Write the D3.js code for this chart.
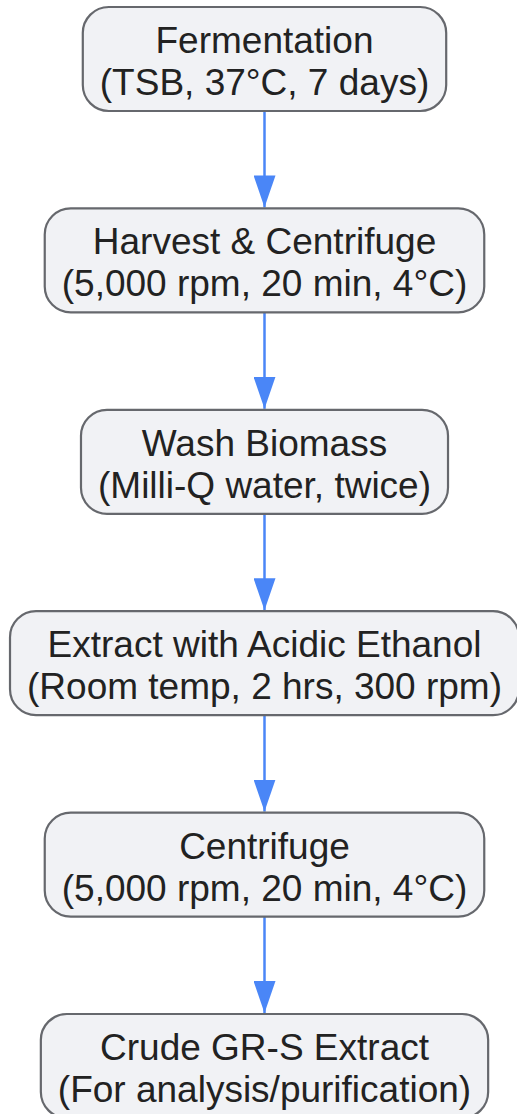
<!DOCTYPE html>
<html><head><meta charset="utf-8">
<script src="https://cdn.jsdelivr.net/npm/d3@7"></script>
<style>html,body{margin:0;padding:0;background:#fff;}svg{display:block;}</style>
</head><body>
<svg id="chart" width="517" height="1114"></svg>
<script>
const steps = ["Fermentation", "Harvest & Centrifuge", "Wash Biomass", "Extract with Acidic Ethanol", "Centrifuge", "Crude GR-S Extract"];
const details = ["(TSB, 37°C, 7 days)", "(5,000 rpm, 20 min, 4°C)", "(Milli-Q water, twice)", "(Room temp, 2 hrs, 300 rpm)", "(5,000 rpm, 20 min, 4°C)", "(For analysis/purification)"];

const svg = d3.select("#chart");
const fontSize = 37;
const font = "'Liberation Sans', Arial, sans-serif";
const cx = 264.5;
const boxH = 104;
const padX = 17;

const y = d3.scaleLinear().domain([0, steps.length - 1]).range([7, 1014]);

svg.append("defs").append("marker")
  .attr("id", "arr").attr("viewBox", "0 0 32 22").attr("refX", 32).attr("refY", 11)
  .attr("markerWidth", 32).attr("markerHeight", 22).attr("markerUnits", "userSpaceOnUse")
  .attr("orient", "auto")
  .append("path").attr("d", "M0,0 L32,11 L0,22 Z").attr("fill", "#4a86f7");

const meas = svg.append("text").attr("font-family", font).attr("font-size", fontSize);
const widths = steps.map((s, i) => {
  meas.text(s); const a = meas.node().getComputedTextLength();
  meas.text(details[i]); const b = meas.node().getComputedTextLength();
  return Math.max(a, b);
});
meas.remove();

const links = d3.range(steps.length - 1);
svg.selectAll("line.link").data(links).join("line")
  .attr("class", "link")
  .attr("x1", cx).attr("x2", cx)
  .attr("y1", i => y(i) + boxH)
  .attr("y2", i => y(i + 1) - 1)
  .attr("stroke", "#4a86f7").attr("stroke-width", 2.5)
  .attr("marker-end", "url(#arr)");

const g = svg.selectAll("g.node").data(steps).join("g").attr("class", "node")
  .attr("transform", (d, i) => `translate(${cx},${y(i)})`);

g.append("rect")
  .attr("x", (d, i) => -(widths[i] / 2 + padX))
  .attr("y", 0)
  .attr("width", (d, i) => widths[i] + 2 * padX)
  .attr("height", boxH)
  .attr("rx", 26).attr("ry", 26)
  .attr("fill", "#f1f2f5").attr("stroke", "#66686d").attr("stroke-width", 2.2);

g.append("text")
  .attr("text-anchor", "middle").attr("y", 46)
  .attr("font-family", font).attr("font-size", fontSize)
  .attr("fill", "#222")
  .text(d => d);
g.append("text")
  .attr("text-anchor", "middle").attr("y", 88)
  .attr("font-family", font).attr("font-size", fontSize)
  .attr("fill", "#222")
  .text((d, i) => details[i]);
</script>
</body></html>
